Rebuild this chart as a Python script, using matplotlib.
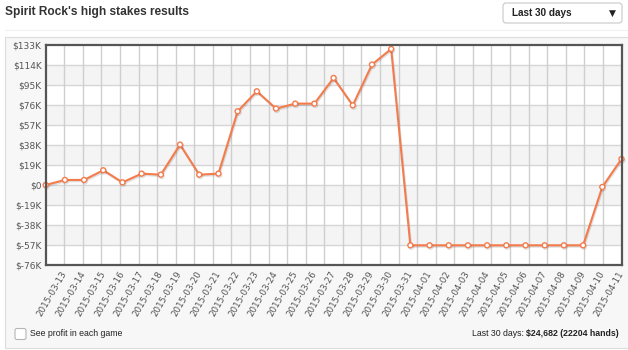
import matplotlib
matplotlib.use('Agg')
import matplotlib.pyplot as plt
import numpy as np
from matplotlib.patches import FancyBboxPatch, Rectangle
from matplotlib.lines import Line2D
import matplotlib.patheffects as pe

# ---------------- data ----------------
dates = ['2015-03-13', '2015-03-14', '2015-03-15', '2015-03-16', '2015-03-17',
         '2015-03-18', '2015-03-19', '2015-03-20', '2015-03-21', '2015-03-22',
         '2015-03-23', '2015-03-24', '2015-03-25', '2015-03-26', '2015-03-27',
         '2015-03-28', '2015-03-29', '2015-03-30', '2015-03-31', '2015-04-01',
         '2015-04-02', '2015-04-03', '2015-04-04', '2015-04-05', '2015-04-06',
         '2015-04-07', '2015-04-08', '2015-04-09', '2015-04-10', '2015-04-11']
# cumulative profit in $K (first point is the starting 0)
profit_k = [0, 4.8, 4.8, 14.0, 2.5, 10.8, 9.8, 38.4, 9.8, 10.8,
            70.0, 89.0, 72.6, 77.3, 77.3, 101.7, 75.7, 114.4, 129.2,
            -57.3, -57.3, -57.3, -57.3, -57.3, -57.3, -57.3, -57.3, -57.3, -57.3,
            -1.9, 24.682]
y_ticks = [-76, -57, -38, -19, 0, 19, 38, 57, 76, 95, 114, 133]
y_labels = ['$-76K', '$-57K', '$-38K', '$-19K', '$0', '$19K', '$38K',
            '$57K', '$76K', '$95K', '$114K', '$133K']
title = "Spirit Rock's high stakes results"
range_label = 'Last 30 days'
footer_left = 'See profit in each game'
footer_normal = 'Last 30 days: '
footer_bold = '$24,682 (22204 hands)'

W, H = 628, 350
fig = plt.figure(figsize=(W / 100, H / 100), dpi=100)
fig.patch.set_facecolor('white')
inch = fig.dpi_scale_trans

def px(x, y):
    return x / 100, (H - y) / 100

# panel background
fig.add_artist(Rectangle(px(5, 348), 6.4, (348 - 37) / 100, transform=inch,
                         fc='#f7f7f7', ec='#dcdcdc', lw=0.8, zorder=0))
fig.add_artist(Line2D([0.05, 6.28], [(H - 30) / 100] * 2, transform=inch,
                      color='#f0f0f0', lw=0.8))

# title
fig.text(*px(5, 12.5), title, transform=inch, fontsize=8.6, fontweight='bold',
         family='Liberation Sans', color='#333333', va='center', ha='left')

# dropdown
fig.add_artist(FancyBboxPatch(px(503, 23), 1.19, 0.20, transform=inch,
                              boxstyle='round,pad=0,rounding_size=0.03',
                              fc='white', ec='#c8c8c8', lw=0.8))
fig.text(*px(511.5, 13), range_label, transform=inch, fontsize=7.2, fontweight='bold',
         family='Liberation Sans', color='#222222', va='center', ha='left')
fig.text(*px(612, 13), '\u25BC', transform=inch, fontsize=6.5,
         family='DejaVu Sans', color='#222222', va='center', ha='center')

# axes
ax = fig.add_axes([45.7 / W, 1 - 265 / H, (621.5 - 45.7) / W, 220 / H])
ax.set_facecolor('white')
ax.set_xlim(0, len(profit_k) - 1)
ax.set_ylim(y_ticks[0], y_ticks[-1])
for i in range(len(y_ticks) - 1):
    if i % 2 == 1:
        ax.axhspan(y_ticks[i], y_ticks[i + 1], color='#f4f4f4', zorder=0, lw=0)
for yv in y_ticks[1:-1]:
    ax.axhline(yv, color='#d6d6d6', lw=1.0, zorder=1)
for xv in np.linspace(0, len(profit_k) - 1, 32)[1:-1]:
    ax.axvline(xv, color='#cfcfcf', lw=1.0, zorder=1)

for s in ax.spines.values():
    s.set_color('#555555')
    s.set_linewidth(1.6)
    s.set_zorder(6)

ax.set_yticks(y_ticks)
ax.set_yticklabels(y_labels, fontsize=6.5, color='#555555', family='DejaVu Sans')
ax.set_xticks(range(1, len(profit_k)))
ax.set_xticklabels(dates, fontsize=6.3, color='#555555', family='DejaVu Sans',
                   rotation=60, ha='right', va='center', rotation_mode='anchor')
ax.tick_params(axis='both', length=0)
ax.tick_params(axis='y', pad=3)
ax.tick_params(axis='x', pad=5)

orange = '#f47b4c'
ax.plot(range(len(profit_k)), profit_k, color=orange, lw=1.5, marker='o', ms=3.6,
        mfc='white', mec=orange, mew=1.0, zorder=5, clip_on=False,
        path_effects=[pe.SimpleLineShadow(offset=(0.6, -1.0), alpha=0.12, shadow_color='black'),
                      pe.Normal()])

# footer
fig.add_artist(FancyBboxPatch(px(15, 339.5), 0.11, 0.11, transform=inch,
                              boxstyle='round,pad=0,rounding_size=0.02',
                              fc='white', ec='#b5b5b5', lw=0.8))
fig.text(*px(30, 333.5), footer_left, transform=inch, fontsize=6.3,
         family='Liberation Sans', color='#222222', va='center', ha='left')
tb = fig.text(*px(619, 333.5), footer_bold, transform=inch, fontsize=6.3, fontweight='bold',
              family='Liberation Sans', color='#222222', va='center', ha='right')
fig.canvas.draw()
bb = tb.get_window_extent(fig.canvas.get_renderer())
fig.text(bb.x0 / fig.dpi, (H - 333.5) / 100, footer_normal, transform=inch, fontsize=6.3,
         family='Liberation Sans', color='#222222', va='center', ha='right')

fig.savefig('out.png', dpi=100)
